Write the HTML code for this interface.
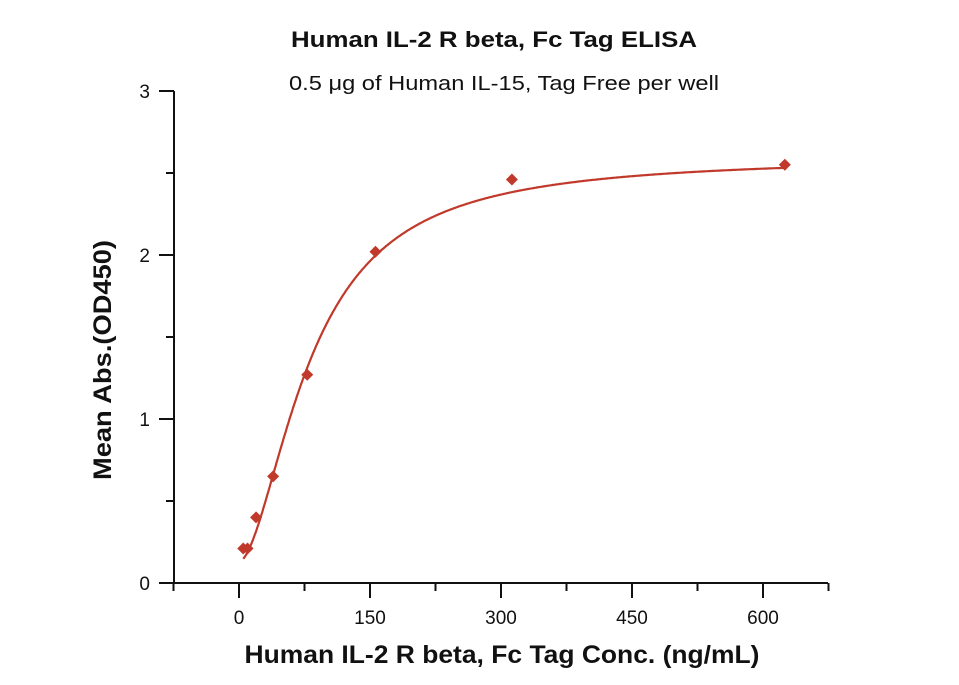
<!DOCTYPE html>
<html><head><meta charset="utf-8"><style>
body{margin:0;background:#fff;}
svg{display:block;font-family:"Liberation Sans","DejaVu Sans",sans-serif;}
</style></head><body>
<svg id="chart" width="959" height="685">
<text x="494" y="47" text-anchor="middle" font-size="22" font-weight="bold" fill="#111" textLength="406" lengthAdjust="spacingAndGlyphs">Human IL-2 R beta, Fc Tag ELISA</text>
<text x="504" y="90" text-anchor="middle" font-size="20" fill="#111" textLength="430" lengthAdjust="spacingAndGlyphs">0.5 μg of Human IL-15, Tag Free per well</text>
<text x="502" y="663" text-anchor="middle" font-size="25" font-weight="bold" fill="#111" textLength="515" lengthAdjust="spacingAndGlyphs">Human IL-2 R beta, Fc Tag Conc. (ng/mL)</text>
<text transform="translate(111,360) rotate(-90)" text-anchor="middle" font-size="25" font-weight="bold" fill="#111" textLength="240" lengthAdjust="spacingAndGlyphs">Mean Abs.(OD450)</text>
<g id="axes"></g>
<g id="marks"></g>
</svg>
<script>
const xTicks=[0,150,300,450,600];
const yTicks=[0,1,2,3];
const conc=[4.88,9.77,19.53,39.06,78.13,156.25,312.5,625];
const od=[0.21,0.21,0.40,0.65,1.27,2.02,2.46,2.55];
const fitBottom=0.13, fitTop=2.6, fitEC50=82, fitHill=1.75;

const NS="http://www.w3.org/2000/svg";
const X0=239, XS=131/150, Y0=583, YS=164;
const xs=v=>X0+v*XS, ys=v=>Y0-v*YS;
function mk(t,a,p){const e=document.createElementNS(NS,t);for(const k in a)e.setAttribute(k,a[k]);p.appendChild(e);return e;}
const ax=document.getElementById('axes'), mg=document.getElementById('marks');
const xl=mk('line',{x1:174,y1:Y0,x2:828,y2:Y0,stroke:'#111','stroke-width':2},ax);


const yl=mk('line',{x1:174,y1:Y0,x2:174,y2:ys(3),stroke:'#111','stroke-width':2},ax);


for(let v=-75;v<=675;v+=75){const major=v%150===0;
 mk('line',{x1:xs(v),y1:Y0,x2:xs(v),y2:Y0+(major?15:8),stroke:'#111','stroke-width':2},ax);}
xTicks.forEach(v=>{const t=mk('text',{x:xs(v),y:Y0+41,'text-anchor':'middle','font-size':19,fill:'#111'},ax);t.textContent=v;
 
 });
for(let v=0;v<=3;v+=0.5){const major=v%1===0;
 mk('line',{x1:174,y1:ys(v),x2:174-(major?15:8),y2:ys(v),stroke:'#111','stroke-width':2},ax);}
yTicks.forEach(v=>{const t=mk('text',{x:150,y:ys(v)+7,'text-anchor':'end','font-size':19,fill:'#111'},ax);t.textContent=v;
 
 });
let d='';
for(let c=conc[0];c<=conc[conc.length-1];c+=1){const y=fitBottom+(fitTop-fitBottom)/(1+Math.pow(fitEC50/c,fitHill));d+=(d?'L':'M')+xs(c).toFixed(1)+','+ys(y).toFixed(1);}
const cur=mk('path',{d:d,fill:'none',stroke:'#c0392b','stroke-width':2.2},mg);


conc.forEach((c,i)=>{const x=xs(c),y=ys(od[i]);
 const p=mk('polygon',{points:`${x},${y-6} ${x+6},${y} ${x},${y+6} ${x-6},${y}`,fill:'#c0392b'},mg);
 
 });
</script>
</body></html>
